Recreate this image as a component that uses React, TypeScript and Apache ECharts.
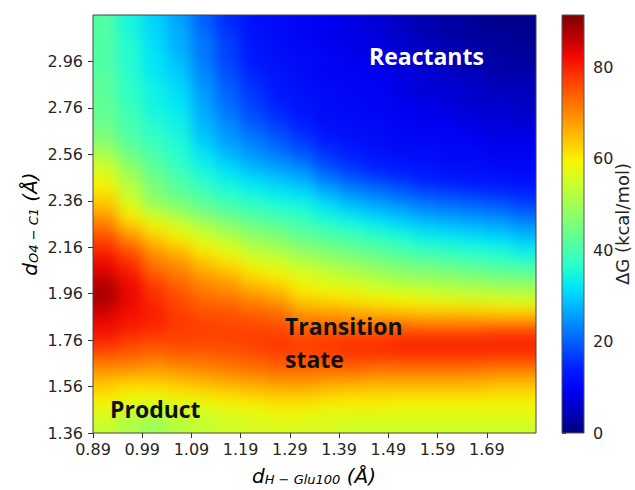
import React, { useEffect, useRef } from "react";
import * as echarts from "echarts";

// Cell edges (Å)
const xEdges = [0.89, 0.94, 0.99, 1.04, 1.09, 1.14, 1.19, 1.24, 1.29, 1.34, 1.39, 1.44, 1.49, 1.54, 1.59, 1.64, 1.69, 1.74, 1.79];
const yEdgesTopDown = [3.16, 3.11, 3.06, 3.01, 2.96, 2.91, 2.86, 2.81, 2.76, 2.71, 2.66, 2.61, 2.56, 2.51, 2.46, 2.41, 2.36, 2.31, 2.26, 2.21, 2.16, 2.11, 2.06, 2.01, 1.96, 1.91, 1.86, 1.81, 1.76, 1.71, 1.66, 1.61, 1.56, 1.51, 1.46, 1.41, 1.36];

// Tick labels
const xTicks = [0.89, 0.99, 1.09, 1.19, 1.29, 1.39, 1.49, 1.59, 1.69];
const yTicks = [1.36, 1.56, 1.76, 1.96, 2.16, 2.36, 2.56, 2.76, 2.96];
const cbTicks = [0, 20, 40, 60, 80];
const cbMax = 91.4;

// ΔG (kcal/mol) per column of cells, listed from top (3.16) down to bottom (1.36)
const dG089 = [41, 41, 41, 41, 41, 42, 42, 43, 43, 44, 46, 49, 53, 56, 59, 62, 65, 69, 73, 77, 80, 83, 85, 88, 88, 85, 83, 81, 78, 74, 69, 65, 62, 59, 56, 54];
const dG094 = [35, 35, 36, 36, 36, 37, 37, 38, 39, 40, 41, 43, 46, 49, 52, 54, 57, 61, 66, 71, 76, 79, 81, 83, 83, 82, 81, 79, 76, 73, 69, 64, 60, 57, 53, 51];
const dG099 = [30, 31, 31, 32, 32, 33, 34, 34, 35, 36, 38, 39, 41, 43, 45, 47, 50, 56, 61, 65, 69, 72, 75, 78, 79, 80, 80, 78, 75, 72, 68, 64, 60, 56, 52, 49];
const dG104 = [26, 27, 27, 28, 29, 30, 31, 32, 33, 34, 35, 36, 37, 39, 41, 43, 47, 52, 57, 61, 66, 69, 72, 74, 76, 77, 78, 77, 76, 73, 69, 65, 61, 57, 54, 52];
const dG109 = [20, 21, 22, 22, 23, 24, 25, 26, 27, 28, 29, 31, 33, 35, 37, 40, 43, 48, 53, 57, 61, 65, 68, 71, 73, 75, 77, 77, 76, 73, 70, 66, 62, 58, 55, 54];
const dG114 = [15, 16, 17, 17, 18, 19, 20, 21, 22, 24, 25, 27, 29, 32, 34, 37, 40, 45, 49, 54, 58, 62, 66, 69, 72, 75, 76, 77, 76, 74, 71, 67, 63, 59, 56, 55];
const dG119 = [12, 12, 13, 13, 14, 15, 16, 17, 18, 20, 22, 24, 26, 29, 32, 35, 38, 42, 46, 50, 54, 58, 62, 66, 70, 73, 76, 77, 77, 75, 72, 68, 64, 60, 57, 56];
const dG124 = [11, 11, 11, 12, 12, 13, 13, 14, 15, 17, 19, 21, 24, 27, 30, 33, 36, 40, 44, 48, 52, 56, 60, 64, 68, 72, 75, 77, 78, 76, 73, 69, 65, 61, 58, 56];
const dG129 = [10, 10, 10, 11, 11, 11, 12, 12, 13, 14, 16, 18, 21, 25, 28, 32, 35, 38, 41, 45, 49, 53, 57, 60, 63, 68, 72, 76, 77, 76, 73, 69, 65, 61, 58, 56];
const dG134 = [9, 9, 9, 10, 10, 10, 11, 11, 11, 12, 13, 15, 17, 20, 24, 28, 32, 35, 39, 43, 47, 51, 55, 58, 62, 67, 72, 76, 78, 76, 73, 68, 64, 60, 57, 56];
const dG139 = [8, 8, 8, 9, 9, 10, 10, 10, 11, 11, 12, 13, 15, 17, 21, 25, 29, 33, 37, 41, 45, 49, 53, 57, 61, 66, 71, 76, 79, 77, 73, 68, 63, 60, 57, 55];
const dG144 = [7, 7, 8, 8, 9, 9, 10, 10, 10, 11, 11, 12, 13, 15, 19, 23, 27, 31, 35, 39, 43, 47, 51, 55, 60, 65, 71, 76, 79, 77, 72, 67, 63, 60, 57, 55];
const dG149 = [5, 6, 6, 7, 7, 8, 8, 9, 9, 10, 10, 11, 12, 14, 17, 21, 25, 29, 33, 37, 41, 45, 49, 54, 59, 64, 71, 77, 80, 77, 72, 67, 63, 59, 57, 55];
const dG154 = [4, 4, 5, 5, 6, 7, 7, 8, 9, 9, 10, 11, 12, 13, 15, 19, 23, 27, 31, 35, 39, 44, 48, 53, 58, 63, 70, 77, 80, 77, 72, 67, 63, 59, 57, 55];
const dG159 = [3, 3, 4, 4, 5, 6, 7, 7, 8, 9, 10, 10, 11, 12, 14, 18, 22, 26, 30, 34, 38, 43, 47, 52, 57, 63, 70, 77, 80, 77, 72, 67, 63, 59, 57, 55];
const dG164 = [2, 2, 3, 3, 4, 5, 6, 6, 7, 8, 9, 10, 11, 12, 13, 17, 21, 25, 29, 33, 37, 41, 46, 51, 56, 63, 70, 77, 80, 77, 72, 67, 63, 59, 57, 55];
const dG169 = [1, 2, 2, 3, 3, 4, 5, 6, 7, 7, 8, 9, 10, 11, 13, 16, 20, 24, 28, 32, 36, 40, 45, 50, 56, 62, 70, 78, 80, 77, 71, 66, 62, 59, 57, 55];
const dG174 = [1, 1, 2, 2, 3, 4, 5, 5, 6, 7, 8, 9, 10, 11, 12, 15, 18, 22, 26, 30, 34, 39, 44, 50, 55, 62, 70, 78, 80, 77, 71, 66, 62, 59, 57, 55];

const columns = [dG089, dG094, dG099, dG104, dG109, dG114, dG119, dG124, dG129, dG134, dG139, dG144, dG149, dG154, dG159, dG164, dG169, dG174];

// jet colormap samples (style)
const jet = ["#000080", "#0000b9", "#0000f3", "#001aff", "#004dff", "#0080ff", "#00b3ff", "#00e6f7", "#29ffcd", "#52ffa4", "#7bff7b", "#a4ff52", "#cdff29", "#f7f500", "#ffc600", "#ff9700", "#ff6800", "#ff3900", "#f30900", "#b90000", "#800000"];

const G = { left: 93, top: 15, width: 443, height: 418 };
const CB = { left: 562, top: 15, width: 22, height: 418 };
const PAD = 24; // extra room around the heat map for smooth shading at the edges

export default function App() {
  const bgRef = useRef<HTMLDivElement>(null);
  const ref = useRef<HTMLDivElement>(null);
  useEffect(() => {
    document.body.style.margin = "0";
    const data: number[][] = [];
    columns.forEach((col, c) => {
      col.forEach((v, r) => {
        data.push([xEdges[c], xEdges[c + 1], yEdgesTopDown[r + 1], yEdgesTopDown[r], v]);
      });
    });
    const nx = xEdges.length - 1;
    const ny = yEdgesTopDown.length - 1;

    // Heat map layer
    const bg = echarts.init(bgRef.current!, null, { renderer: "svg" });
    bg.setOption({
      animation: false,
      grid: { left: PAD, top: PAD, width: G.width, height: G.height },
      xAxis: { type: "value", min: 0.89, max: 1.79, show: false },
      yAxis: { type: "value", min: 1.36, max: 3.16, show: false },
      visualMap: {
        type: "continuous", show: false, min: 0, max: cbMax, dimension: 4, seriesIndex: 0,
        inRange: { color: jet },
      },
      series: [
        {
          type: "custom",
          clip: false,
          encode: { x: [0, 1], y: [2, 3] },
          data,
          renderItem: (params: any, api: any) => {
            const idx = params.dataIndex;
            const c = Math.floor(idx / ny);
            const r = idx % ny;
            const p0 = api.coord([api.value(0), api.value(3)]);
            const p1 = api.coord([api.value(1), api.value(2)]);
            let x0 = p0[0], y0 = p0[1], x1 = p1[0] + 1, y1 = p1[1] + 1;
            if (c === 0) x0 -= PAD;
            if (c === nx - 1) x1 += PAD;
            if (r === 0) y0 -= PAD;
            if (r === ny - 1) y1 += PAD;
            return {
              type: "rect",
              shape: { x: x0, y: y0, width: x1 - x0, height: y1 - y0 },
              style: { fill: api.visual("color") },
            };
          },
        },
      ],
    });

    // Axes, colour bar and labels layer
    const chart = echarts.init(ref.current!, null, { renderer: "svg" });
    const tickFont = { fontFamily: "DejaVu Sans", fontSize: 16, color: "#262626" };
    const richMain = { fontFamily: "DejaVu Sans", fontStyle: "italic", fontSize: 20, lineHeight: 20, verticalAlign: "top", color: "#262626" };
    const richSub = { fontFamily: "DejaVu Sans", fontStyle: "italic", fontSize: 13, lineHeight: 13, verticalAlign: "bottom", padding: [11, 0, 0, 0], color: "#262626" };
    const annot = { fontFamily: "Open Sans", fontWeight: "bold", fontSize: 23 };
    chart.setOption({
      animation: false,
      grid: [
        { left: G.left, top: G.top, width: G.width, height: G.height },
        { left: CB.left, top: CB.top, width: CB.width, height: CB.height },
      ],
      xAxis: [
        {
          gridIndex: 0, type: "value", min: 0.89, max: 1.79,
          axisLine: { show: false },
          axisTick: { show: true, length: 5, lineStyle: { color: "#333" }, customValues: xTicks },
          axisLabel: { ...tickFont, margin: 8, customValues: xTicks, formatter: (v: number) => v.toFixed(2) },
          splitLine: { show: false },
        },
        { gridIndex: 1, type: "value", min: 0, max: 1, show: false },
      ],
      yAxis: [
        {
          gridIndex: 0, type: "value", min: 1.36, max: 3.16,
          axisLine: { show: false },
          axisTick: { show: true, length: 5, lineStyle: { color: "#333" }, customValues: yTicks },
          axisLabel: { ...tickFont, margin: 10, customValues: yTicks, formatter: (v: number) => v.toFixed(2) },
          splitLine: { show: false },
        },
        {
          gridIndex: 1, type: "value", min: 0, max: cbMax, position: "right",
          axisLine: { show: false },
          axisTick: { show: true, length: 4, lineStyle: { color: "#333" }, customValues: cbTicks },
          axisLabel: { ...tickFont, margin: 9, customValues: cbTicks },
          splitLine: { show: false },
        },
      ],
      series: [],
      graphic: [
        {
          type: "rect", z: 100, silent: true,
          shape: { x: G.left, y: G.top, width: G.width, height: G.height },
          style: { fill: "none", stroke: "#444", lineWidth: 1 },
        },
        {
          type: "rect", z: 50, silent: true,
          shape: { x: CB.left, y: CB.top, width: CB.width, height: CB.height },
          style: {
            fill: new echarts.graphic.LinearGradient(0, 1, 0, 0, jet.map((c, i) => ({ offset: i / (jet.length - 1), color: c }))),
            stroke: "#555", lineWidth: 1,
          },
        },
        {
          type: "text", z: 110, x: 369, y: 56,
          style: { ...annot, text: "Reactants", fill: "#ffffff", align: "left", verticalAlign: "middle" },
        },
        {
          type: "text", z: 110, x: 285, y: 326,
          style: { ...annot, text: "Transition", fill: "#111", align: "left", verticalAlign: "middle" },
        },
        {
          type: "text", z: 110, x: 285, y: 359,
          style: { ...annot, text: "state", fill: "#111", align: "left", verticalAlign: "middle" },
        },
        {
          type: "text", z: 110, x: 110, y: 409,
          style: { ...annot, text: "Product", fill: "#111", align: "left", verticalAlign: "middle" },
        },
        {
          type: "text", z: 110, x: 314, y: 486,
          style: {
            text: "{m|d}{s|H − Glu100}{m| (Å)}",
            rich: { m: richMain, s: richSub },
            align: "center", verticalAlign: "bottom",
          },
        },
        {
          type: "text", z: 110, x: 30, y: 224, rotation: Math.PI / 2,
          style: {
            text: "{m|d}{s|O4 − C1}{m| (Å)}",
            rich: { m: richMain, s: richSub },
            align: "center", verticalAlign: "middle",
          },
        },
        {
          type: "text", z: 110, x: 622, y: 224, rotation: Math.PI / 2,
          style: {
            text: "ΔG (kcal/mol)",
            fontFamily: "DejaVu Sans", fontSize: 18, fill: "#262626",
            align: "center", verticalAlign: "middle",
          },
        },
      ],
    });
    return () => {
      bg.dispose();
      chart.dispose();
    };
  }, []);
  return (
    <div style={{ position: "relative", width: 635, height: 490 }}>
      <div
        style={{
          position: "absolute", left: G.left, top: G.top, width: G.width, height: G.height,
          overflow: "hidden",
        }}
      >
        <div
          ref={bgRef}
          style={{
            position: "absolute", left: -PAD, top: -PAD,
            width: G.width + 2 * PAD, height: G.height + 2 * PAD,
            filter: "blur(7px)",
          }}
        />
      </div>
      <div ref={ref} style={{ position: "absolute", left: 0, top: 0, width: 635, height: 490 }} />
    </div>
  );
}
